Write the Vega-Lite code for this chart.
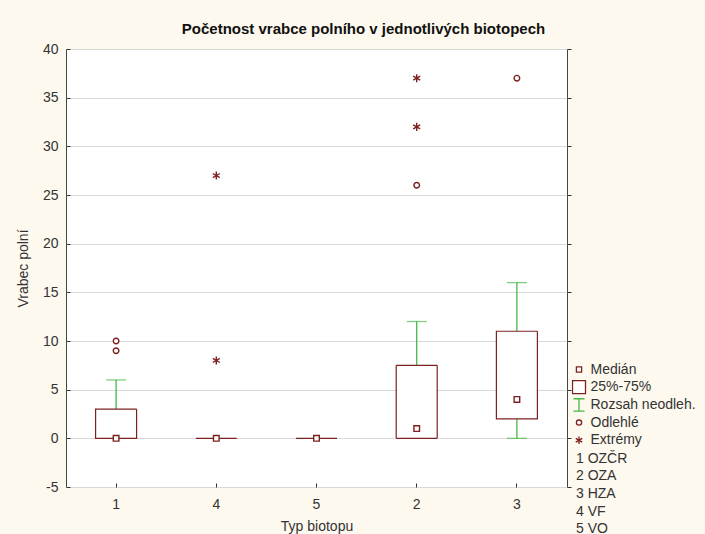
{
  "$schema": "https://vega.github.io/schema/vega-lite/v6.json",
  "width": 501,
  "height": 438,
  "autosize": {"type": "none"},
  "padding": {"left": 66, "top": 49, "right": 138, "bottom": 47},
  "background": "#fdf9ee",
  "title": {
    "text": "Početnost vrabce polního v jednotlivých biotopech",
    "fontSize": 15,
    "fontWeight": "bold",
    "color": "#111111",
    "anchor": "middle",
    "dx": 47,
    "offset": 5
  },
  "config": {
    "font": "Liberation Sans",
    "view": {"stroke": "#444444", "strokeWidth": 1, "fill": "white"},
    "axis": {
      "labelFontSize": 14,
      "labelColor": "#333333",
      "titleFontSize": 14,
      "titleFontWeight": "normal",
      "titleColor": "#333333",
      "domain": false,
      "tickColor": "#333333"
    },
    "legend": {
      "labelFontSize": 14,
      "labelColor": "#333333"
    }
  },
  "datasets": {
    "boxes": [
      {"pos": "1", "name": "1 OZČR", "q1": 0, "q3": 3, "med": 0, "wlo": 0, "whi": 6},
      {"pos": "4", "name": "4 VF", "q1": 0, "q3": 0, "med": 0, "wlo": 0, "whi": 0},
      {"pos": "5", "name": "5 VO", "q1": 0, "q3": 0, "med": 0, "wlo": 0, "whi": 0},
      {"pos": "2", "name": "2 OZA", "q1": 0, "q3": 7.5, "med": 1, "wlo": 0, "whi": 12},
      {"pos": "3", "name": "3 HZA", "q1": 2, "q3": 11, "med": 4, "wlo": 0, "whi": 16}
    ],
    "points": [
      {"pos": "1", "value": 0, "type": "Medián"},
      {"pos": "4", "value": 0, "type": "Medián"},
      {"pos": "5", "value": 0, "type": "Medián"},
      {"pos": "2", "value": 1, "type": "Medián"},
      {"pos": "3", "value": 4, "type": "Medián"},
      {"pos": "1", "value": 9, "type": "Odlehlé"},
      {"pos": "1", "value": 10, "type": "Odlehlé"},
      {"pos": "4", "value": 8, "type": "Extrémy"},
      {"pos": "4", "value": 27, "type": "Extrémy"},
      {"pos": "2", "value": 26, "type": "Odlehlé"},
      {"pos": "2", "value": 32, "type": "Extrémy"},
      {"pos": "2", "value": 37, "type": "Extrémy"},
      {"pos": "3", "value": 37, "type": "Odlehlé"}
    ]
  },
  "layer": [
    {
      "data": {"name": "boxes"},
      "layer": [
        {
          "transform": [{"filter": "datum.whi > datum.q3"}],
          "mark": {"type": "rule", "color": "#46b946", "strokeWidth": 1.3},
          "encoding": {
            "x": {"field": "pos", "type": "nominal", "sort": ["1", "4", "5", "2", "3"],
                  "scale": {"paddingInner": 0, "paddingOuter": 0},
                  "axis": {"title": "Typ biotopu", "labelAngle": 0, "tickSize": -4, "labelPadding": 14, "titlePadding": 8}},
            "y": {"field": "q3", "type": "quantitative",
                  "scale": {"domain": [-5, 40], "nice": false, "zero": false},
                  "axis": {"title": "Vrabec polní", "values": [-5, 0, 5, 10, 15, 20, 25, 30, 35, 40],
                           "labelExpr": "replace(datum.label, '−', '-')",
                           "tickSize": -4, "labelPadding": 12, "titlePadding": 12,
                           "grid": true, "gridColor": "#d9d9d9", "gridWidth": 1}},
            "y2": {"field": "whi"}
          }
        },
        {
          "transform": [{"filter": "datum.whi > datum.q3"}],
          "mark": {"type": "tick", "color": "#46b946", "size": 20, "thickness": 1.3},
          "encoding": {
            "x": {"field": "pos", "type": "nominal", "sort": ["1", "4", "5", "2", "3"]},
            "y": {"field": "whi", "type": "quantitative"}
          }
        },
        {
          "transform": [{"filter": "datum.wlo < datum.q1"}],
          "mark": {"type": "rule", "color": "#46b946", "strokeWidth": 1.3},
          "encoding": {
            "x": {"field": "pos", "type": "nominal", "sort": ["1", "4", "5", "2", "3"]},
            "y": {"field": "wlo", "type": "quantitative"},
            "y2": {"field": "q1"}
          }
        },
        {
          "transform": [{"filter": "datum.wlo < datum.q1"}],
          "mark": {"type": "tick", "color": "#46b946", "size": 20, "thickness": 1.3},
          "encoding": {
            "x": {"field": "pos", "type": "nominal", "sort": ["1", "4", "5", "2", "3"]},
            "y": {"field": "wlo", "type": "quantitative"}
          }
        },
        {
          "mark": {"type": "bar", "size": 41, "fill": "white", "stroke": "#7d2020", "strokeWidth": 1.2},
          "encoding": {
            "x": {"field": "pos", "type": "nominal", "sort": ["1", "4", "5", "2", "3"]},
            "y": {"field": "q1", "type": "quantitative"},
            "y2": {"field": "q3"},
            "strokeDash": {
              "field": "name", "type": "nominal",
              "scale": {"domain": ["1 OZČR", "2 OZA", "3 HZA", "4 VF", "5 VO"],
                        "range": [[1, 0], [1, 0], [1, 0], [1, 0], [1, 0]]},
              "legend": {"title": null, "orient": "none", "legendX": 505.5, "legendY": 401.5,
                         "symbolType": "square", "symbolSize": 169, "symbolOpacity": 0,
                         "symbolStrokeWidth": 0, "labelOffset": -9.5,
                         "clipHeight": 16, "rowPadding": 1.7}
            }
          }
        }
      ]
    },
    {
      "data": {"name": "points"},
      "mark": {"type": "point", "filled": true, "fill": "white", "size": 196, "strokeWidth": 1.4, "opacity": 1},
      "encoding": {
        "x": {"field": "pos", "type": "nominal", "sort": ["1", "4", "5", "2", "3"]},
        "y": {"field": "value", "type": "quantitative",
              "axis": {"orient": "right", "labels": false, "title": null, "grid": false,
                       "values": [-5, 0, 5, 10, 15, 20, 25, 30, 35, 40], "tickSize": 4}},
        "shape": {
          "field": "type", "type": "nominal",
          "scale": {
            "domain": ["Medián", "25%-75%", "Rozsah neodleh.", "Odlehlé", "Extrémy"],
            "range": [
              "M-0.4,-0.4H0.4V0.4H-0.4Z",
              "M-1,-1H1V1H-1Z",
              "M-0.85,-0.95H0.85M0,-0.95V0.95M-0.85,0.95H0.85",
              "M0.4,0A0.4,0.4,0,1,1,-0.4,0A0.4,0.4,0,1,1,0.4,0Z",
              "M0,-0.58V0.58M-0.5,-0.29L0.5,0.29M-0.5,0.29L0.5,-0.29"
            ]
          },
          "legend": {"title": null, "orient": "none", "legendX": 505.5, "legendY": 312.5,
                     "symbolSize": 169, "symbolStrokeWidth": 1.3, "symbolFillColor": "transparent",
                     "clipHeight": 16, "rowPadding": 1.7}
        },
        "stroke": {
          "field": "type", "type": "nominal",
          "scale": {
            "domain": ["Medián", "25%-75%", "Rozsah neodleh.", "Odlehlé", "Extrémy"],
            "range": ["#7d2020", "#7d2020", "#46b946", "#7d2020", "#7d2020"]
          },
          "legend": {"title": null, "orient": "none", "legendX": 505.5, "legendY": 312.5,
                     "symbolSize": 169, "symbolStrokeWidth": 1.3, "symbolFillColor": "transparent",
                     "clipHeight": 16, "rowPadding": 1.7}
        }
      }
    }
  ],
  "resolve": {"axis": {"y": "independent"}}
}
